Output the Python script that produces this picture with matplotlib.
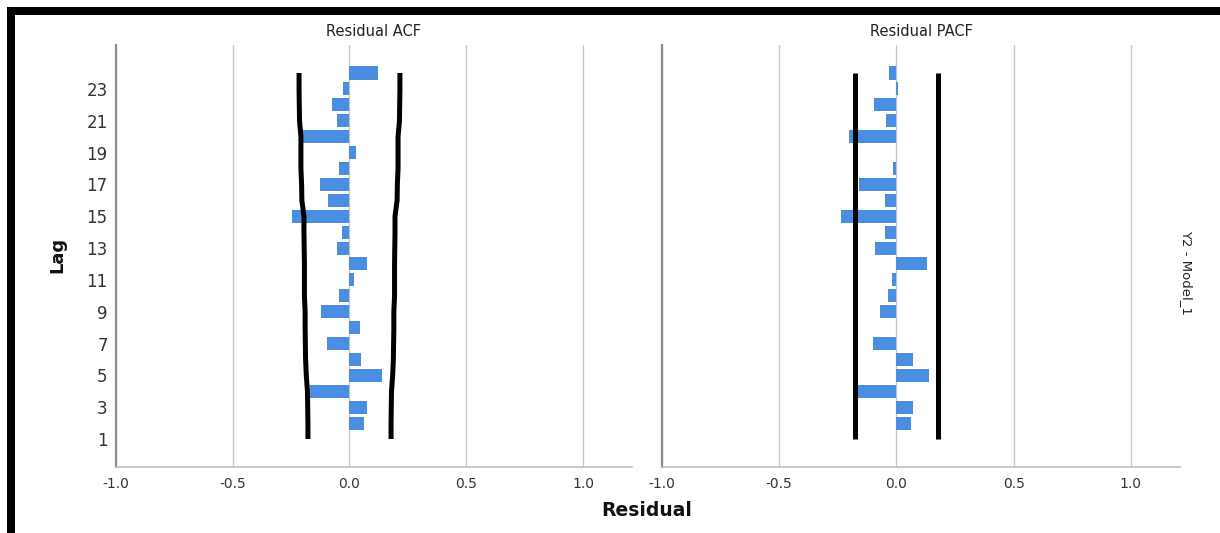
import matplotlib
matplotlib.use("Agg")
import matplotlib.pyplot as plt
from matplotlib.patches import Rectangle

# Lags and residual correlations for Y2 - Model_1
lags = list(range(1, 25))
acf = [0.000, 0.062, 0.073, -0.170, 0.140, 0.051, -0.096, 0.047,
       -0.120, -0.046, 0.019, 0.073, -0.053, -0.031, -0.245, -0.091,
       -0.127, -0.043, 0.026, -0.203, -0.053, -0.074, -0.027, 0.123]
pacf = [0.000, 0.064, 0.071, -0.176, 0.139, 0.071, -0.100, -0.003,
        -0.069, -0.036, -0.017, 0.131, -0.093, -0.047, -0.236, -0.050,
        -0.160, -0.014, 0.000, -0.202, -0.043, -0.097, 0.007, -0.033]
# Confidence limits (upper; lower is the mirror image)
acf_limit = [0.178, 0.178, 0.179, 0.180, 0.185, 0.188, 0.189, 0.190,
             0.190, 0.193, 0.193, 0.193, 0.194, 0.195, 0.195, 0.204,
             0.205, 0.208, 0.208, 0.208, 0.214, 0.215, 0.216, 0.216]
pacf_limit = [0.178] * 24

x_ticks = [-1.0, -0.5, 0.0, 0.5, 1.0]
x_ticklabels = ["-1.0", "-0.5", "0.0", "0.5", "1.0"]
y_ticks = list(range(1, 24, 2))
panel_titles = ["Residual ACF", "Residual PACF"]

W, H = 1220, 533
fig = plt.figure(figsize=(W / 100, H / 100), dpi=100)
fig.patch.set_facecolor("white")


def fx(px):
    return px / W


def fy(py):
    return 1 - py / H


bar_color = "#4a8ee2"
top, bottom = 45, 467
panels = [(116, 632), (662, 1180)]

axes = []
for (left, right), values, limit in zip(panels, [acf, pacf], [acf_limit, pacf_limit]):
    ax = fig.add_axes([fx(left), fy(bottom), fx(right - left), (bottom - top) / H])
    ax.set_xlim(-1.0, 1.21)
    ax.set_ylim(-0.76, 25.76)
    ax.set_xticks(x_ticks)
    ax.set_xticklabels(x_ticklabels)
    ax.grid(axis="x", color="#c8c8c8", linewidth=1.0, zorder=0)
    ax.set_axisbelow(True)
    ax.barh(lags, values, height=0.82, color=bar_color, edgecolor="none", zorder=2)
    ax.plot([-v for v in limit], lags, color="black", linewidth=3.6,
            solid_capstyle="butt", solid_joinstyle="round", zorder=3)
    ax.plot(limit, lags, color="black", linewidth=3.6,
            solid_capstyle="butt", solid_joinstyle="round", zorder=3)
    for s in ["top", "right"]:
        ax.spines[s].set_visible(False)
    ax.spines["left"].set_color("#8c8c8c")
    ax.spines["left"].set_linewidth(1.6)
    ax.spines["bottom"].set_color("#c0c0c0")
    ax.spines["bottom"].set_linewidth(1.2)
    ax.tick_params(axis="both", length=0)
    ax.tick_params(axis="x", pad=7, labelsize=10, labelcolor="#333333")
    for lbl in ax.get_xticklabels():
        lbl.set_family("DejaVu Sans")
    axes.append(ax)

axes[0].set_yticks(y_ticks)
axes[0].set_yticklabels([str(v) for v in y_ticks])
axes[0].tick_params(axis="y", pad=6, labelsize=12, labelcolor="#333333")
axes[1].set_yticks([])

for (left, right), title in zip(panels, panel_titles):
    fig.text(fx((left + right) / 2), fy(31), title, ha="center", va="center",
             fontsize=10.5, color="#222222", family="DejaVu Sans")

fig.text(fx(57), fy(255), "Lag", rotation=90, ha="center", va="center",
         fontsize=13, fontweight="bold", color="#111111", family="DejaVu Sans")
fig.text(fx(647), fy(510), "Residual", ha="center", va="center",
         fontsize=13.5, fontweight="bold", color="#111111", family="DejaVu Sans")
fig.text(fx(1187), fy(272), "Y2 - Model_1", rotation=270, ha="center", va="center",
         fontsize=9.5, color="#222222", family="DejaVu Sans")

# Heavy black frame along the top and left edges
fig.add_artist(Rectangle((fx(7), fy(15)), 1 - fx(7), 8 / H, transform=fig.transFigure,
                         facecolor="black", edgecolor="none"))
fig.add_artist(Rectangle((fx(7), 0), 8 / W, fy(7), transform=fig.transFigure,
                         facecolor="black", edgecolor="none"))

fig.savefig("out.png", dpi=100)
